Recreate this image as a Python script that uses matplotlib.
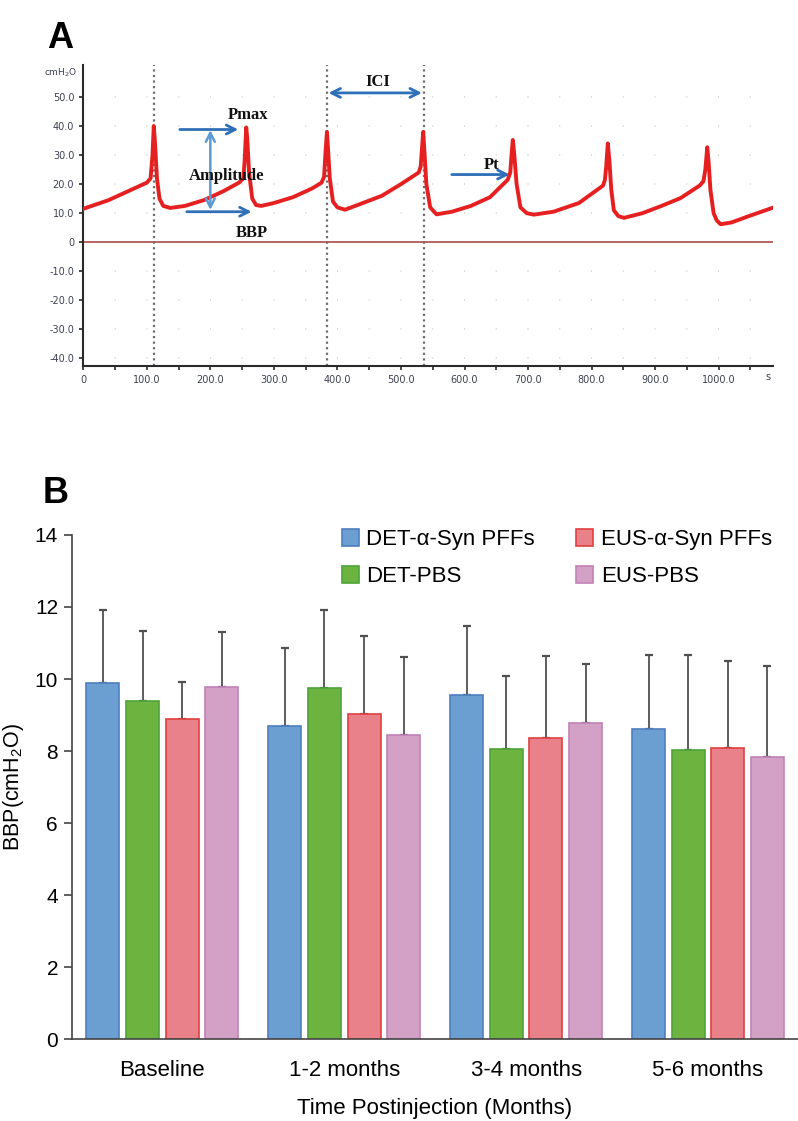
import numpy as np
import matplotlib.pyplot as plt

plt.rcParams['font.family'] = ['Liberation Sans', 'DejaVu Sans']
plt.rcParams['mathtext.default'] = 'regular'

# Panel A: cystometry trace (s, cmH2O)
trace_t = [0, 20, 40, 60, 80, 100, 106, 109, 111, 113, 116, 120, 126, 137, 160, 190, 220, 245,
           252, 254, 256.5, 258, 261, 266, 272, 280, 300, 330, 360, 375, 379, 381, 383.5, 385,
           388, 393, 400, 412, 440, 470, 500, 528, 531, 533, 535, 537, 540, 546, 556, 580, 610,
           640, 668, 672, 674, 676, 678, 682, 688, 698, 709, 740, 780, 818, 821, 823, 825.5,
           828, 831, 835, 842, 851, 880, 910, 940, 970, 976, 979, 982, 984, 987, 992, 997,
           1003, 1020, 1045, 1084]
trace_p = [11.5, 13, 14.5, 16.5, 18.5, 20.5, 22, 30, 40, 34, 22, 15, 12.5, 11.8, 12.5, 14.5,
           17.5, 20.5, 22, 28, 39.5, 36, 24, 15, 12.8, 12.5, 13.5, 15.5, 18.5, 20.5, 22.5, 30,
           38, 33, 22, 14, 12, 11.2, 13.5, 16, 20, 24, 26, 32, 38, 31, 20, 12, 9.6, 10.5, 12.5,
           15.5, 21.5, 24, 30, 35.2, 31, 20, 12, 10, 9.5, 10.5, 13.5, 19.5, 21.5, 26, 34, 28,
           18, 11, 9, 8.4, 10, 12.5, 15.2, 19.5, 21, 25, 32.7, 28, 18, 10, 7.5, 6.2, 6.8, 8.8,
           11.8]
cursor_t = [112, 383.5, 535.5]

# Panel B: BBP by time point
groups = ['Baseline', '1-2 months', '3-4 months', '5-6 months']
det_syn = [9.88, 8.69, 9.56, 8.60]
det_syn_sd = [2.04, 2.16, 1.91, 2.08]
det_pbs = [9.40, 9.76, 8.06, 8.03]
det_pbs_sd = [1.93, 2.16, 2.03, 2.65]
eus_syn = [8.88, 9.02, 8.35, 8.09]
eus_syn_sd = [1.03, 2.17, 2.29, 2.41]
eus_pbs = [9.79, 8.44, 8.79, 7.83]
eus_pbs_sd = [1.52, 2.18, 1.62, 2.54]

fig = plt.figure(figsize=(7.98, 11.21), dpi=100)

# ---------------- A ----------------
axA = fig.add_axes([0.1043, 0.6735, 0.8640, 0.2685])
axA.set_xlim(0, 1085)
axA.set_ylim(-42.6, 61)
axA.set_yticks(np.arange(-40, 51, 10))
axA.set_yticklabels(['0' if v == 0 else '%.1f' % v for v in np.arange(-40, 51, 10)])
axA.set_xticks(np.arange(0, 1001, 100))
axA.set_xticklabels(['0'] + ['%.1f' % v for v in np.arange(100, 1001, 100)])
axA.set_xticks(np.arange(50, 1051, 100), minor=True)
axA.yaxis.grid(True, color='#d4d4d4', lw=1.2, linestyle=(0, (0.6, 18.45)))
axA.set_axisbelow(True)
for s in ['top', 'right']:
    axA.spines[s].set_visible(False)
for s in ['left', 'bottom']:
    axA.spines[s].set_color('#2a2a2a')
    axA.spines[s].set_linewidth(1.5)
axA.tick_params(which='both', length=3, width=1.2, color='#2a2a2a',
                labelsize=7, labelcolor='#3c4050')
for lab in axA.get_xticklabels() + axA.get_yticklabels():
    lab.set_family('DejaVu Sans')

axA.axhline(0, color='#b04848', lw=1.2, zorder=2)
for x in cursor_t:
    axA.axvline(x, color='#6e6e6e', lw=1.6, linestyle=(0, (1, 1.5)), zorder=2)
axA.plot(trace_t, trace_p, color='#e62020', lw=2.8, solid_joinstyle='round', zorder=3)

axA.annotate('cmH$_2$O', xy=(0, 58.2), xytext=(-4, 0), textcoords='offset points',
             ha='right', va='center', fontsize=6.5, color='#3c4050', family='DejaVu Sans')
axA.annotate('s', xy=(1078, 0), xycoords=('data', 'axes fraction'), xytext=(0, -8),
             textcoords='offset points', ha='center', va='center', fontsize=7,
             color='#3c4050', family='DejaVu Sans')

dark_blue = '#2f6fb8'
light_blue = '#5b9bd5'
arr = dict(color=dark_blue, lw=2, mutation_scale=16, shrinkA=0, shrinkB=0)
axA.annotate('', xy=(244, 38.8), xytext=(152, 38.8), arrowprops=dict(arrowstyle='->', **arr))
axA.annotate('', xy=(265, 10.5), xytext=(163, 10.5), arrowprops=dict(arrowstyle='->', **arr))
axA.annotate('', xy=(386, 51.4), xytext=(533, 51.4), arrowprops=dict(arrowstyle='<->', **arr))
axA.annotate('', xy=(671, 23.3), xytext=(580, 23.3), arrowprops=dict(arrowstyle='->', **arr))
axA.annotate('', xy=(200, 38.6), xytext=(200, 11.1),
             arrowprops=dict(arrowstyle='<->', color=light_blue, lw=1.8, mutation_scale=16,
                             shrinkA=0, shrinkB=0))

lab_kw = dict(family='Liberation Serif', weight='bold', fontsize=12, ha='center',
              va='center', color='#111111')
axA.text(260, 43.8, 'Pmax', **lab_kw)
axA.text(225, 22.8, 'Amplitude', **lab_kw)
axA.text(266, 3.1, 'BBP', **lab_kw)
axA.text(463, 55, 'ICI', **lab_kw)
axA.text(642, 26.5, 'Pt', **lab_kw)

# ---------------- B ----------------
axB = fig.add_axes([0.0902, 0.0729, 0.9098, 0.4499])
x = np.arange(len(groups))
pitch = 0.218
width = 0.181
series = [
    ('DET-α-Syn PFFs', det_syn, det_syn_sd, '#6b9fd1', '#4f7fc0'),
    ('DET-PBS', det_pbs, det_pbs_sd, '#6cb33f', '#4ea43a'),
    ('EUS-α-Syn PFFs', eus_syn, eus_syn_sd, '#e8818a', '#e2403f'),
    ('EUS-PBS', eus_pbs, eus_pbs_sd, '#d4a1c6', '#c281b6'),
]
for i, (name, vals, sd, fc, ec) in enumerate(series):
    pos = x + (i - 1.5) * pitch
    axB.bar(pos, vals, width, color=fc, edgecolor=ec, linewidth=1.2, label=name, zorder=2)
    axB.errorbar(pos, vals, yerr=[np.zeros(len(sd)), sd], fmt='none', ecolor='#505050',
                 elinewidth=1.3, capsize=3, capthick=1.6, zorder=1)

axB.set_xlim(-0.497, 3.495)
axB.set_ylim(0, 14)
axB.set_yticks(np.arange(0, 15, 2))
axB.set_xticks(x)
axB.set_xticklabels(groups)
for s in ['top', 'right']:
    axB.spines[s].set_visible(False)
for s in ['left', 'bottom']:
    axB.spines[s].set_color('#444444')
    axB.spines[s].set_linewidth(1.2)
axB.tick_params(axis='y', length=6, width=1.2, color='#444444', labelsize=15, pad=4)
axB.tick_params(axis='x', length=0, labelsize=16, pad=15)
axB.set_ylabel('BBP(cmH$_2$O)', fontsize=15.5, labelpad=6)
axB.set_xlabel('Time Postinjection (Months)', fontsize=16, labelpad=12)

axB.legend(ncol=2, loc='upper left', bbox_to_anchor=(0.4286, 0.528),
           bbox_transform=fig.transFigure, frameon=False, fontsize=16,
           handlelength=0.75, handleheight=0.75, handletextpad=0.35,
           columnspacing=1.85, labelspacing=0.72, borderpad=0, borderaxespad=0)

fig.text(0.075, 0.966, 'A', fontsize=26, weight='bold', ha='center', va='center')
fig.text(0.0695, 0.5602, 'B', fontsize=26, weight='bold', ha='center', va='center')

fig.savefig('out.png', dpi=100)
